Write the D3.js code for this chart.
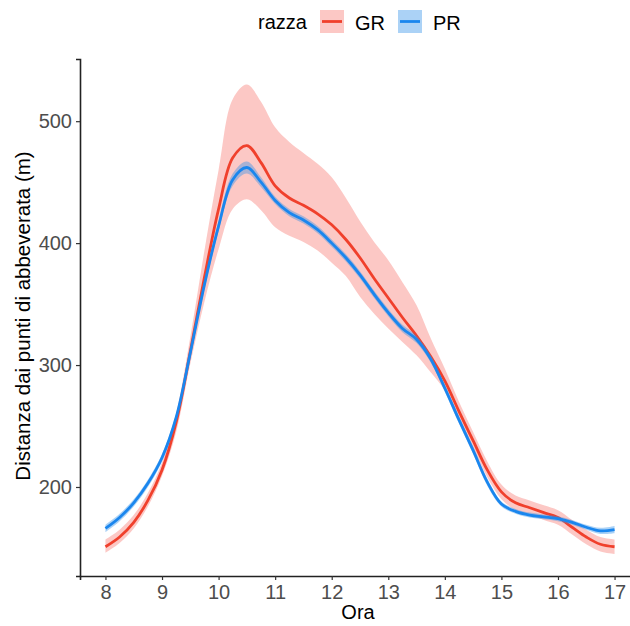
<!DOCTYPE html>
<html>
<head>
<meta charset="utf-8">
<script src="https://cdn.jsdelivr.net/npm/d3@7"></script>
<style>
  body { margin: 0; background: white; }
  svg text { font-family: "Liberation Sans", Arial, sans-serif; }
</style>
</head>
<body>
<svg id="chart" width="630" height="626"></svg>
<script>
// hour of day (x), every quarter hour, and smoothed distance from watering points per breed
const hours  = [8, 8.25, 8.5, 8.75, 9, 9.25, 9.5, 9.75, 10, 10.25, 10.5, 10.75, 11, 11.25, 11.5, 11.75, 12, 12.25, 12.5, 12.75,
                13, 13.25, 13.5, 13.75, 14, 14.25, 14.5, 14.75, 15, 15.25, 15.5, 15.75, 16, 16.25, 16.5, 16.75, 17]

const grMean = [151, 159, 171, 189, 214, 253, 311, 372, 428, 470, 480, 466, 447, 437, 431, 424, 415, 403, 388, 371,
                355, 339, 324, 307, 287, 262, 238, 214, 196, 187, 183, 179, 175, 167, 159, 153, 151]
const grLow  = [146, 154, 166, 184, 209, 245, 301, 352, 395, 428, 436, 427, 413, 406, 401, 394, 384, 373, 356, 342,
                330, 319, 308, 294, 279, 255, 232, 208, 190, 181, 177, 173, 169, 161, 153, 147, 145]
const grHigh = [157, 165, 177, 195, 220, 260, 323, 394, 460, 518, 530, 516, 495, 483, 474, 465, 454, 437, 418, 401,
                386, 368, 349, 322, 297, 270, 245, 221, 202, 193, 189, 185, 181, 173, 165, 159, 157]

const prMean = [166, 175, 187, 203, 224, 257, 310, 366, 414, 452, 462, 450, 435, 425, 419, 411, 400, 388, 374, 358,
                343, 330, 321, 305, 281, 255, 230, 204, 186, 180, 177, 175.5, 174, 171, 167, 164, 165]
const prLow  = [163, 172, 184, 200, 221, 254, 307, 362, 410, 447, 457, 446, 432, 422, 416, 408, 397, 385, 371, 355,
                340, 327, 318, 302, 278, 252, 227, 201, 184, 178, 175, 173.5, 172, 169, 165, 161.5, 162]
const prHigh = [169, 178, 190, 206, 227, 260, 313, 370, 418, 457, 467, 454, 438, 428, 422, 414, 403, 391, 377, 361,
                346, 333, 324, 308, 284, 258, 233, 207, 188, 182, 179, 177.5, 176, 173, 169, 166.5, 168]

const xTicks = [8, 9, 10, 11, 12, 13, 14, 15, 16, 17]
const yTicks = [200, 300, 400, 500]
const breeds = ["GR", "PR"]

var lineColor = {GR: "#F0402C", PR: "#1A86EE"}
var fillColor = {GR: "#F8766D", PR: "#2D8FE8"}

var svg = d3.select("#chart")

// ggplot-ish expanded domains
var x = d3.scaleLinear().domain([7.55, 17.45]).range([80, 640])
var y = d3.scaleLinear().domain([127, 551]).range([576, 59])

var series = [
  {key: "GR", mean: grMean, low: grLow, high: grHigh},
  {key: "PR", mean: prMean, low: prLow, high: prHigh}
]

var area = d3.area()
  .x((d, i) => x(hours[i]))
  .y0(d => y(d[0]))
  .y1(d => y(d[1]))
  .curve(d3.curveCatmullRom.alpha(0.5))

var line = d3.line()
  .x((d, i) => x(hours[i]))
  .y(d => y(d))
  .curve(d3.curveCatmullRom.alpha(0.5))

// ribbon then line per group, like geom_smooth
series.forEach(s => {
  svg.append("path")
    .datum(s.low.map((v, i) => [v, s.high[i]]))
    .attr("d", area)
    .attr("fill", fillColor[s.key])
    .attr("fill-opacity", 0.4)

  svg.append("path")
    .datum(s.mean)
    .attr("d", line)
    .attr("fill", "none")
    .attr("stroke", lineColor[s.key])
    .attr("stroke-width", 2.8)
})

// axes
svg.append("g")
  .attr("transform", "translate(0,576)")
  .call(d3.axisBottom(x).tickValues(xTicks).tickSizeOuter(0).tickSize(4).tickPadding(5))

svg.append("g")
  .attr("transform", "translate(80,0)")
  .call(d3.axisLeft(y).tickValues(yTicks).tickSizeOuter(0).tickSize(4).tickPadding(4))

svg.selectAll(".domain")
  .attr("stroke", "#222")
  .attr("stroke-width", 1.6)

svg.selectAll(".tick line")
  .attr("stroke", "#333")
  .attr("stroke-width", 1.2)

svg.selectAll(".tick text")
  .attr("font-size", "20px")
  .attr("fill", "#4D4D4D")
  .attr("font-family", "Liberation Sans, Arial, sans-serif")

// axis titles
svg.append("text")
  .text("Ora")
  .attr("x", 358)
  .attr("y", 619)
  .attr("text-anchor", "middle")
  .attr("font-size", "20px")
  .attr("fill", "black")

svg.append("text")
  .text("Distanza dai punti di abbeverata (m)")
  .attr("transform", "translate(30,316) rotate(-90)")
  .attr("text-anchor", "middle")
  .attr("font-size", "20.5px")
  .attr("fill", "black")

// legend
var legend = svg.append("g")

legend.append("text")
  .text("razza")
  .attr("x", 258)
  .attr("y", 29)
  .attr("font-size", "20px")
  .attr("fill", "black")

var keyX = [320, 398]
var keys = legend.selectAll("g.key")
  .data(breeds)
  .enter().append("g")
  .attr("class", "key")
  .attr("transform", (d, i) => "translate(" + keyX[i] + ",10)")

keys.append("rect")
  .attr("width", 24)
  .attr("height", 23)
  .attr("fill", d => fillColor[d])
  .attr("fill-opacity", 0.4)

keys.append("line")
  .attr("x1", 2)
  .attr("x2", 22)
  .attr("y1", 11.5)
  .attr("y2", 11.5)
  .attr("stroke", d => lineColor[d])
  .attr("stroke-width", 2.8)

keys.append("text")
  .text(d => d)
  .attr("x", 35)
  .attr("y", 19.5)
  .attr("font-size", "20px")
  .attr("fill", "black")
</script>
</body>
</html>
